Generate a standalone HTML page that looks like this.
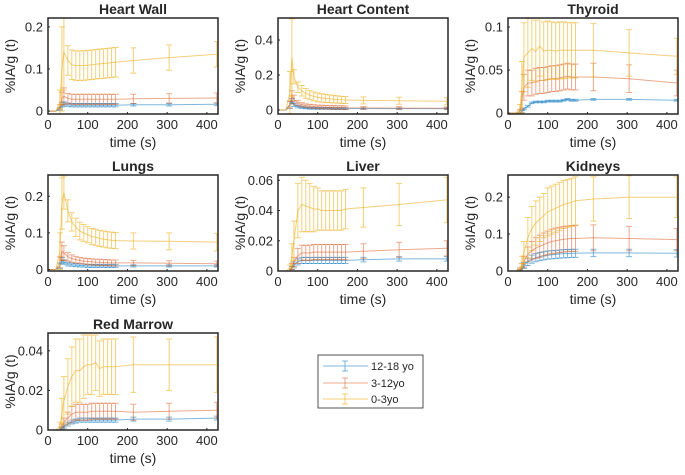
<!DOCTYPE html>
<html><head><meta charset="utf-8">
<style>
body{margin:0;background:#fff;font-family:"Liberation Sans",Arial,sans-serif;}
svg text{font-family:"Liberation Sans",Arial,sans-serif;fill:#262626;}
</style></head>
<body>
<svg id="fig" width="685" height="470" viewBox="0 0 685 470" xmlns="http://www.w3.org/2000/svg">
<rect x="0" y="0" width="685" height="470" fill="#fff"/>
<g>
<rect x="318" y="355" width="105" height="53" fill="#fff" stroke="#262626" stroke-width="0.8"/>
<g>
<line x1="323" y1="366" x2="368" y2="366" stroke="#0072BD" stroke-opacity="0.5"/>
<line x1="345" y1="361" x2="345" y2="371" stroke="#0072BD" stroke-opacity="0.5"/>
<line x1="342" y1="361" x2="348" y2="361" stroke="#0072BD" stroke-opacity="0.5"/>
<line x1="342" y1="371" x2="348" y2="371" stroke="#0072BD" stroke-opacity="0.5"/>
<text x="371" y="370" font-size="11">12-18 yo</text></g>
<g>
<line x1="323" y1="383" x2="368" y2="383" stroke="#D95319" stroke-opacity="0.5"/>
<line x1="345" y1="378" x2="345" y2="388" stroke="#D95319" stroke-opacity="0.5"/>
<line x1="342" y1="378" x2="348" y2="378" stroke="#D95319" stroke-opacity="0.5"/>
<line x1="342" y1="388" x2="348" y2="388" stroke="#D95319" stroke-opacity="0.5"/>
<text x="371" y="387" font-size="11">3-12yo</text></g>
<g>
<line x1="323" y1="399" x2="368" y2="399" stroke="#EDB120" stroke-opacity="0.6"/>
<line x1="345" y1="394" x2="345" y2="404" stroke="#EDB120" stroke-opacity="0.6"/>
<line x1="342" y1="394" x2="348" y2="394" stroke="#EDB120" stroke-opacity="0.6"/>
<line x1="342" y1="404" x2="348" y2="404" stroke="#EDB120" stroke-opacity="0.6"/>
<text x="371" y="403" font-size="11">0-3yo</text></g>
</g>
</svg>
<script>
const times=[0,10,20,30,35,40,50,60,70,80,90,100,110,120,130,140,150,160,170,215,305,425];
const xTicks=[0,100,200,300,400];
// Heart Wall
const hwA=[0,0,0,0.02,0.1,0.14,0.12,0.11,0.108,0.108,0.108,0.109,0.11,0.111,0.112,0.113,0.114,0.115,0.116,0.12,0.127,0.135];
const hwAe=[0,0,0,0.03,0.1,0.09,0.035,0.035,0.035,0.035,0.035,0.035,0.035,0.035,0.035,0.035,0.035,0.035,0.035,0.03,0.03,0.03];
const hwB=[0,0,0,0.01,0.03,0.035,0.03,0.028,0.028,0.028,0.028,0.028,0.028,0.028,0.028,0.028,0.028,0.028,0.028,0.029,0.03,0.031];
const hwBe=[0,0,0,0.005,0.015,0.02,0.012,0.012,0.012,0.012,0.012,0.012,0.012,0.012,0.012,0.012,0.012,0.012,0.012,0.011,0.011,0.012];
const hwC=[0,0,0,0.005,0.015,0.017,0.015,0.014,0.014,0.014,0.014,0.014,0.014,0.014,0.014,0.014,0.014,0.014,0.014,0.015,0.015,0.016];
const hwCe=[0,0,0,0.003,0.005,0.005,0.004,0.004,0.004,0.004,0.004,0.004,0.004,0.004,0.004,0.004,0.004,0.004,0.004,0.003,0.003,0.003];
// Heart Content
const hcA=[0,0,0,0.1,0.3,0.19,0.13,0.11,0.095,0.085,0.078,0.072,0.069,0.066,0.064,0.062,0.06,0.058,0.057,0.055,0.053,0.05];
const hcAe=[0,0,0,0.12,0.22,0.04,0.03,0.03,0.028,0.026,0.025,0.025,0.024,0.023,0.022,0.022,0.021,0.02,0.02,0.02,0.02,0.02];
const hcB=[0,0,0,0.03,0.08,0.06,0.04,0.03,0.025,0.022,0.02,0.018,0.017,0.016,0.015,0.015,0.014,0.014,0.013,0.012,0.011,0.01];
const hcBe=[0,0,0,0.02,0.03,0.025,0.015,0.012,0.01,0.01,0.01,0.01,0.01,0.01,0.01,0.01,0.01,0.01,0.01,0.008,0.008,0.008];
const hcC=[0,0,0,0.03,0.05,0.03,0.02,0.015,0.012,0.01,0.01,0.009,0.009,0.009,0.009,0.008,0.008,0.008,0.008,0.008,0.008,0.008];
const hcCe=[0,0,0,0.02,0.015,0.01,0.008,0.006,0.005,0.005,0.005,0.005,0.005,0.005,0.005,0.005,0.005,0.005,0.005,0.004,0.004,0.004];
// Thyroid
const thA=[0,0,0,0.005,0.03,0.065,0.07,0.075,0.072,0.078,0.072,0.073,0.073,0.072,0.073,0.073,0.073,0.073,0.073,0.073,0.07,0.066];
const thAe=[0,0,0,0.005,0.03,0.04,0.04,0.037,0.036,0.035,0.034,0.034,0.033,0.033,0.033,0.033,0.032,0.032,0.032,0.031,0.027,0.021];
const thB=[0,0,0,0.002,0.015,0.03,0.035,0.035,0.037,0.038,0.038,0.039,0.04,0.04,0.041,0.042,0.043,0.042,0.042,0.042,0.04,0.035];
const thBe=[0,0,0,0.002,0.01,0.015,0.015,0.015,0.015,0.015,0.015,0.015,0.015,0.015,0.015,0.015,0.015,0.015,0.015,0.016,0.016,0.015];
const thC=[0,0,0,0,0.002,0.005,0.008,0.012,0.013,0.013,0.013,0.014,0.014,0.014,0.014,0.015,0.016,0.015,0.015,0.016,0.016,0.015];
const thCe=[0,0,0,0,0.001,0.001,0.001,0.001,0.001,0.001,0.001,0.001,0.001,0.001,0.001,0.001,0.001,0.001,0.001,0.001,0.001,0.001];
// Lungs
const luA=[0,0,0,0.05,0.18,0.21,0.16,0.13,0.115,0.105,0.1,0.095,0.09,0.088,0.085,0.083,0.081,0.08,0.079,0.078,0.077,0.075];
const luAe=[0,0,0,0.05,0.07,0.045,0.03,0.025,0.025,0.024,0.023,0.022,0.022,0.022,0.022,0.022,0.022,0.022,0.022,0.022,0.023,0.024];
const luB=[0,0,0,0.02,0.05,0.045,0.035,0.03,0.027,0.025,0.023,0.022,0.021,0.02,0.02,0.019,0.019,0.018,0.018,0.018,0.017,0.016];
const luBe=[0,0,0,0.015,0.025,0.02,0.012,0.01,0.009,0.008,0.008,0.008,0.008,0.008,0.008,0.008,0.008,0.008,0.008,0.007,0.007,0.007];
const luC=[0,0,0,0.01,0.025,0.02,0.015,0.013,0.012,0.011,0.011,0.01,0.01,0.01,0.01,0.01,0.01,0.01,0.01,0.01,0.01,0.01];
const luCe=[0,0,0,0.008,0.008,0.006,0.005,0.004,0.004,0.004,0.004,0.004,0.004,0.004,0.004,0.004,0.004,0.004,0.004,0.003,0.003,0.003];
// Liver
const liA=[0,0,0,0.002,0.01,0.02,0.04,0.044,0.043,0.042,0.041,0.041,0.04,0.04,0.04,0.04,0.04,0.04,0.041,0.042,0.044,0.047];
const liAe=[0,0,0,0.002,0.008,0.013,0.018,0.018,0.017,0.016,0.015,0.014,0.013,0.013,0.013,0.013,0.013,0.013,0.013,0.013,0.014,0.015];
const liB=[0,0,0,0,0.003,0.006,0.01,0.012,0.012,0.012,0.0125,0.0125,0.0125,0.0125,0.0125,0.0125,0.0125,0.0125,0.0125,0.013,0.014,0.015];
const liBe=[0,0,0,0,0.002,0.003,0.005,0.005,0.005,0.005,0.005,0.005,0.005,0.005,0.005,0.005,0.005,0.005,0.005,0.005,0.005,0.005];
const liC=[0,0,0,0,0.002,0.004,0.006,0.007,0.007,0.007,0.007,0.007,0.007,0.007,0.007,0.007,0.007,0.007,0.007,0.0075,0.008,0.008];
const liCe=[0,0,0,0,0.001,0.002,0.002,0.002,0.002,0.002,0.002,0.002,0.002,0.002,0.002,0.002,0.002,0.002,0.002,0.0015,0.0015,0.0015];
// Kidneys
const kiA=[0,0,0,0.005,0.02,0.05,0.09,0.115,0.13,0.14,0.15,0.16,0.165,0.17,0.175,0.18,0.183,0.186,0.19,0.195,0.2,0.2];
const kiAe=[0,0,0,0.005,0.02,0.03,0.055,0.06,0.06,0.06,0.06,0.065,0.065,0.065,0.065,0.065,0.065,0.065,0.065,0.06,0.058,0.055];
const kiB=[0,0,0,0.003,0.01,0.025,0.045,0.055,0.062,0.067,0.072,0.076,0.08,0.082,0.084,0.086,0.087,0.088,0.088,0.09,0.088,0.085];
const kiBe=[0,0,0,0.003,0.01,0.015,0.02,0.025,0.028,0.03,0.031,0.032,0.033,0.034,0.034,0.035,0.035,0.035,0.035,0.035,0.033,0.03];
const kiC=[0,0,0,0.002,0.005,0.015,0.025,0.032,0.036,0.039,0.041,0.043,0.044,0.045,0.046,0.047,0.047,0.048,0.048,0.049,0.049,0.048];
const kiCe=[0,0,0,0.002,0.005,0.008,0.01,0.011,0.011,0.011,0.011,0.011,0.011,0.011,0.011,0.011,0.011,0.011,0.011,0.01,0.01,0.01];
// Red Marrow
const rmA=[0,0,0,0.002,0.008,0.015,0.022,0.027,0.03,0.03,0.032,0.033,0.033,0.034,0.031,0.032,0.032,0.032,0.032,0.033,0.033,0.033];
const rmAe=[0,0,0,0.002,0.008,0.012,0.014,0.015,0.016,0.016,0.016,0.015,0.015,0.014,0.014,0.014,0.014,0.014,0.014,0.014,0.013,0.014];
const rmB=[0,0,0,0,0.002,0.004,0.006,0.008,0.009,0.009,0.009,0.009,0.0095,0.0095,0.0095,0.0095,0.0095,0.0095,0.0095,0.009,0.0095,0.01];
const rmBe=[0,0,0,0,0.001,0.002,0.003,0.004,0.004,0.004,0.004,0.004,0.004,0.004,0.004,0.004,0.004,0.004,0.004,0.004,0.004,0.004];
const rmC=[0,0,0,0,0.001,0.002,0.003,0.004,0.0045,0.005,0.005,0.005,0.005,0.005,0.005,0.005,0.005,0.005,0.005,0.0055,0.0055,0.006];
const rmCe=[0,0,0,0,0.0005,0.001,0.001,0.001,0.001,0.001,0.001,0.001,0.001,0.001,0.001,0.001,0.001,0.001,0.001,0.001,0.001,0.001];

const panels=[
 {name:'heart-wall',title:'Heart Wall',l:48,r:218,t:18,b:114,ymin:-0.007,ymax:0.221,yt:[0,0.1,0.2],s:[[hwC,hwCe],[hwB,hwBe],[hwA,hwAe]]},
 {name:'heart-content',title:'Heart Content',l:278,r:448,t:18,b:114,ymin:-0.023,ymax:0.526,yt:[0,0.2,0.4],s:[[hcC,hcCe],[hcB,hcBe],[hcA,hcAe]]},
 {name:'thyroid',title:'Thyroid',l:508,r:678,t:18,b:114,ymin:-0.001,ymax:0.1105,yt:[0,0.05,0.1],s:[[thC,thCe],[thB,thBe],[thA,thAe]]},
 {name:'lungs',title:'Lungs',l:48,r:218,t:175,b:271,ymin:-0.004,ymax:0.258,yt:[0,0.1,0.2],s:[[luC,luCe],[luB,luBe],[luA,luAe]]},
 {name:'liver',title:'Liver',l:278,r:448,t:175,b:271,ymin:0,ymax:0.0635,yt:[0,0.02,0.04,0.06],s:[[liC,liCe],[liB,liBe],[liA,liAe]]},
 {name:'kidneys',title:'Kidneys',l:508,r:678,t:175,b:271,ymin:0,ymax:0.26,yt:[0,0.1,0.2],s:[[kiC,kiCe],[kiB,kiBe],[kiA,kiAe]]},
 {name:'red-marrow',title:'Red Marrow',l:48,r:218,t:333,b:430,ymin:0,ymax:0.049,yt:[0,0.02,0.04],s:[[rmC,rmCe],[rmB,rmBe],[rmA,rmAe]]}
];
const colors=['#0072BD','#D95319','#EDB120'];
const groupNames=['12-18','3-12','0-3'];
const NS='http://www.w3.org/2000/svg';
const svg=document.getElementById('fig');
function mk(tag,attrs,parent){const e=document.createElementNS(NS,tag);for(const k in attrs)e.setAttribute(k,attrs[k]);parent.appendChild(e);return e;}
const XMAX=428;
panels.forEach(p=>{
 const g=mk('g',{},svg);
 
 
 const xs=v=>p.l+(v/XMAX)*(p.r-p.l);
 const ys=v=>p.b-(v-p.ymin)/(p.ymax-p.ymin)*(p.b-p.t);
 const clip='clip-'+p.name;
 const cp=mk('clipPath',{id:clip},g);
 mk('rect',{x:p.l,y:p.t,width:p.r-p.l,height:p.b-p.t},cp);
 const data=mk('g',{'clip-path':'url(#'+clip+')'},g);
 p.s.forEach((ser,si)=>{
  const sg=mk('g',{stroke:colors[si],'stroke-opacity':si==2?0.6:0.5,fill:'none','stroke-width':1},data);
  
  
  const m=ser[0],e=ser[1];
  let d='';
  times.forEach((t,i)=>{d+=(i?'L':'M')+xs(t).toFixed(1)+' '+ys(m[i]).toFixed(1);});
  const ln=mk('path',{d:d},sg);
  
  
  times.forEach((t,i)=>{
   if(e[i]<=0)return;
   const x=xs(t),y1=ys(m[i]-e[i]),y2=ys(m[i]+e[i]);
   const eb=mk('path',{d:`M${x} ${y1}L${x} ${y2}M${x-3} ${y1}L${x+3} ${y1}M${x-3} ${y2}L${x+3} ${y2}`},sg);
   
   
  });
 });
 const box=mk('rect',{x:p.l,y:p.t,width:p.r-p.l,height:p.b-p.t,fill:'none',stroke:'#262626','stroke-width':1.5},g);
 
 
 xTicks.forEach(v=>{
  const x=xs(v);
  mk('line',{x1:x,y1:p.b,x2:x,y2:p.b-2,stroke:'#262626'},g);
  const tx=mk('text',{x:x,y:p.b+15,'font-size':13,'text-anchor':'middle'},g);
  tx.textContent=v;
  
  
 });
 p.yt.forEach(v=>{
  const y=ys(v);
  mk('line',{x1:p.l,y1:y,x2:p.l+2,y2:y,stroke:'#262626'},g);
  const tx=mk('text',{x:p.l-5,y:y+4.5,'font-size':13,'text-anchor':'end'},g);
  tx.textContent=String(v);
  
  
 });
 const ti=mk('text',{x:(p.l+p.r)/2,y:p.t-4,'font-size':14,'font-weight':'bold','text-anchor':'middle'},g);
 ti.textContent=p.title;
 
 
 const xl=mk('text',{x:(p.l+p.r)/2,y:p.b+33,'font-size':14,'text-anchor':'middle'},g);
 xl.textContent='time (s)';
 
 
 const cy=(p.t+p.b)/2, cx=p.l-33;
 const yl=mk('text',{x:cx,y:cy,'font-size':14,'text-anchor':'middle',transform:`rotate(-90 ${cx} ${cy})`},g);
 yl.textContent='%IA/g (t)';
 
 
});
</script>
</body></html>
